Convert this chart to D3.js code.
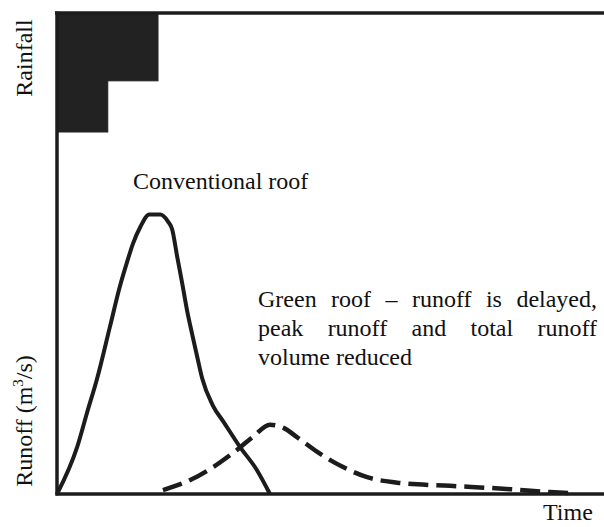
<!DOCTYPE html>
<html><head><meta charset="utf-8">
<script src="https://cdn.jsdelivr.net/npm/d3@7"></script>
<style>html,body{margin:0;padding:0;background:#fff;}svg{display:block;}</style>
</head><body>
<script>
// ---- data ----
const rainTime = [0, 9.3, 18.5];           // interval edges
const rainIntensity = [10, 5.7];           // intensity in each interval
const convTime  = [0, 3.7, 5.5, 7.3, 9.7, 11.5, 12.8, 13.9, 15.3, 16.9, 18.9, 20.3, 21.1, 22.0, 22.9, 23.8, 24.7, 25.8, 26.6, 28.5, 30.5, 33.5, 36.6, 39.0];
const convRunoff= [0, 9.8, 16.9, 23.8, 34.8, 43.1, 48.1, 52.0, 55.6, 58.1, 58.1, 56.7, 55.0, 49.4, 44.0, 38.3, 33.5, 27.9, 24.0, 18.5, 15.0, 9.8, 5.0, 0];
const greenTime  = [19.4, 24.4, 28.6, 33.0, 35.9, 39.0, 41.4, 44.1, 47.6, 52.4, 56.8, 62.8, 72.0, 83.0, 90.3, 94.0];
const greenRunoff= [0.8, 2.9, 5.6, 9.2, 11.9, 14.4, 13.8, 11.7, 8.8, 5.6, 3.5, 2.3, 1.7, 1.0, 0.4, 0.2];
const labels = {
  rain: "Rainfall",
  time: "Time",
  conv: "Conventional roof",
  greenLines: ["Green roof \u2013 runoff is delayed,", "peak runoff and total runoff", "volume reduced"]
};

// ---- drawing ----
const W = 604, H = 527;
const svg = d3.select("body").append("svg").attr("width", W).attr("height", H);
const x = d3.scaleLinear().domain([0, 100]).range([57, 603]);
const y = d3.scaleLinear().domain([0, 100]).range([494, 13]);
const yr = d3.scaleLinear().domain([0, 10]).range([13, 132]);
const ink = "#1c1c1c";
const font = "'Liberation Serif','Times New Roman',serif";

// rainfall blocks (hyetograph hanging from top)
svg.selectAll("rect.rain").data(rainIntensity).join("rect")
  .attr("class", "rain")
  .attr("x", (d, i) => x(rainTime[i]))
  .attr("width", (d, i) => x(rainTime[i + 1]) - x(rainTime[i]))
  .attr("y", yr(0))
  .attr("height", d => yr(d) - yr(0))
  .attr("fill", "#222").attr("stroke", "#222").attr("stroke-width", 1);

// frame lines
svg.append("line").attr("x1", x(0) - 2).attr("x2", x(100) + 1).attr("y1", y(100)).attr("y2", y(100))
  .attr("stroke", ink).attr("stroke-width", 3.5);
svg.append("line").attr("x1", x(0)).attr("x2", x(0)).attr("y1", y(100) - 1.5).attr("y2", y(0) + 1.5)
  .attr("stroke", ink).attr("stroke-width", 3.5);
svg.append("line").attr("x1", x(0) - 1.5).attr("x2", x(100) + 1).attr("y1", y(0)).attr("y2", y(0))
  .attr("stroke", ink).attr("stroke-width", 3.5);

const line = d3.line().x(d => x(d[0])).y(d => y(d[1])).curve(d3.curveMonotoneX);

svg.append("path").datum(convTime.map((t, i) => [t, convRunoff[i]]))
  .attr("d", line).attr("fill", "none").attr("stroke", ink).attr("stroke-width", 4)
  .attr("stroke-linejoin", "round");

svg.append("path").datum(greenTime.map((t, i) => [t, greenRunoff[i]]))
  .attr("d", line).attr("fill", "none").attr("stroke", ink).attr("stroke-width", 4.5)
  .attr("stroke-dasharray", "20,8");

// axis titles
svg.append("text").attr("transform", "translate(32,58) rotate(-90)")
  .attr("text-anchor", "middle").attr("font-family", font).attr("font-size", 24).attr("fill", "#111")
  .text(labels.rain);
const rt = svg.append("text").attr("transform", "translate(32,421) rotate(-90)")
  .attr("text-anchor", "middle").attr("font-family", font).attr("font-size", 24).attr("fill", "#111");
rt.append("tspan").text("Runoff (m");
rt.append("tspan").attr("dy", -9).attr("font-size", 15).text("3");
rt.append("tspan").attr("dy", 9).text("/s)");

svg.append("text").attr("x", 543).attr("y", 520).attr("font-family", font).attr("font-size", 24)
  .attr("fill", "#111").text(labels.time);

svg.append("text").attr("x", 133).attr("y", 189).attr("font-family", font).attr("font-size", 24)
  .attr("fill", "#111").text(labels.conv);

// justified annotation
const left = 258, right = 597, base0 = 307, lh = 29;
labels.greenLines.forEach((ln, li) => {
  const g = svg.append("g");
  const words = ln.split(" ");
  const ts = words.map(w => g.append("text").attr("font-family", font).attr("font-size", 24)
    .attr("fill", "#111").attr("y", base0 + li * lh).text(w));
  const widths = ts.map(t => t.node().getComputedTextLength());
  const total = d3.sum(widths);
  const justify = li < labels.greenLines.length - 1;
  const gap = justify ? (right - left - total) / (words.length - 1) : 6;
  let cx = left;
  ts.forEach((t, i) => { t.attr("x", cx); cx += widths[i] + gap; });
});
</script>
</body></html>
